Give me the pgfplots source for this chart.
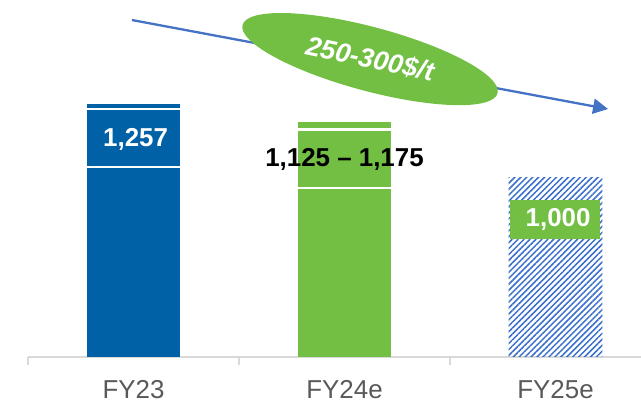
\documentclass[border=0pt]{standalone}
\usepackage{pgfplots}
\pgfplotsset{compat=1.18}
\usepackage{fontspec}
\setmainfont{Liberation Sans}
\usetikzlibrary{patterns.meta,arrows.meta,shapes.geometric}
\definecolor{barblue}{HTML}{0061A6}
\definecolor{bargreen}{HTML}{72BF44}
\definecolor{hatchblue}{HTML}{3B6FCC}
\definecolor{arrowblue}{HTML}{4472C4}
\definecolor{txtgray}{HTML}{595959}
\definecolor{axgray}{HTML}{D9D9D9}
\begin{document}
\begin{tikzpicture}
\begin{axis}[
  at={(28bp,44bp)}, anchor=south west,
  scale only axis, width=613bp, height=357bp,
  xmin=-0.5, xmax=2.405, ymin=0, ymax=1773.6,
  axis x line*=bottom, axis y line=none,
  x axis line style={axgray, line width=1.5bp},
  xtick={0,1,2}, xticklabels={FY23,FY24e,FY25e},
  major tick length=0pt,
  minor xtick={-0.5,0.5,1.5},
  minor tick length=8bp,
  tick align=outside,
  minor tick style={axgray, line width=1.5bp},
  xticklabel style={font=\fontsize{26}{30}\selectfont, text=txtgray, inner sep=0pt, yshift=-23bp},
  clip=false,
]
% bars
\addplot[ybar, bar width=0.445, bar shift=0pt, fill=barblue, draw=none] coordinates {(0,1257)};
\addplot[ybar, bar width=0.445, bar shift=0pt, fill=bargreen, draw=none] coordinates {(1,1168)};
\addplot[ybar, bar width=0.445, bar shift=0pt, draw=none, pattern={Lines[angle=45,distance=4.2bp,line width=1.5bp]}, pattern color=hatchblue] coordinates {(2,894)};
% white separators inside the bars
\addplot[white, line width=2.2bp, no marks] coordinates {(-0.2225,1232) (0.2225,1232)};
\addplot[white, line width=2.2bp, no marks] coordinates {(-0.2225,944) (0.2225,944)};
\addplot[white, line width=2.2bp, no marks] coordinates {(0.7775,1130) (1.2225,1130)};
\addplot[white, line width=2.2bp, no marks] coordinates {(0.7775,840) (1.2225,840)};
% trend arrow
\addplot[arrowblue, line width=2.3bp, no marks, -{Triangle[length=15bp,width=15bp]}] coordinates {(-0.007,1674) (2.249,1232)};
% value labels
\node[text=white, font=\bfseries\fontsize{26}{30}\selectfont] at (axis cs:0.01,1083) {1,257};
\node[text=black, font=\bfseries\fontsize{26}{30}\selectfont] at (axis cs:1,979) {1,125 – 1,175};
\node[fill=bargreen, text=white, font=\bfseries\fontsize{26}{30}\selectfont, minimum width=90bp, minimum height=39bp, inner sep=0pt] at (axis cs:1.998,683) {\hspace{6bp}1,000};
% ellipse callout
\node[ellipse, fill=bargreen, minimum width=264bp, minimum height=64bp, inner sep=0pt, rotate=-15] at (axis cs:1.121,1480) {};
\node[text=white, font=\bfseries\itshape\fontsize{27}{30}\selectfont, rotate=-12] at (axis cs:1.121,1480) {250-300\$/t};
\end{axis}
\pgfresetboundingbox
\useasboundingbox (0,0) rectangle (641bp,401bp);
\end{tikzpicture}
\end{document}
